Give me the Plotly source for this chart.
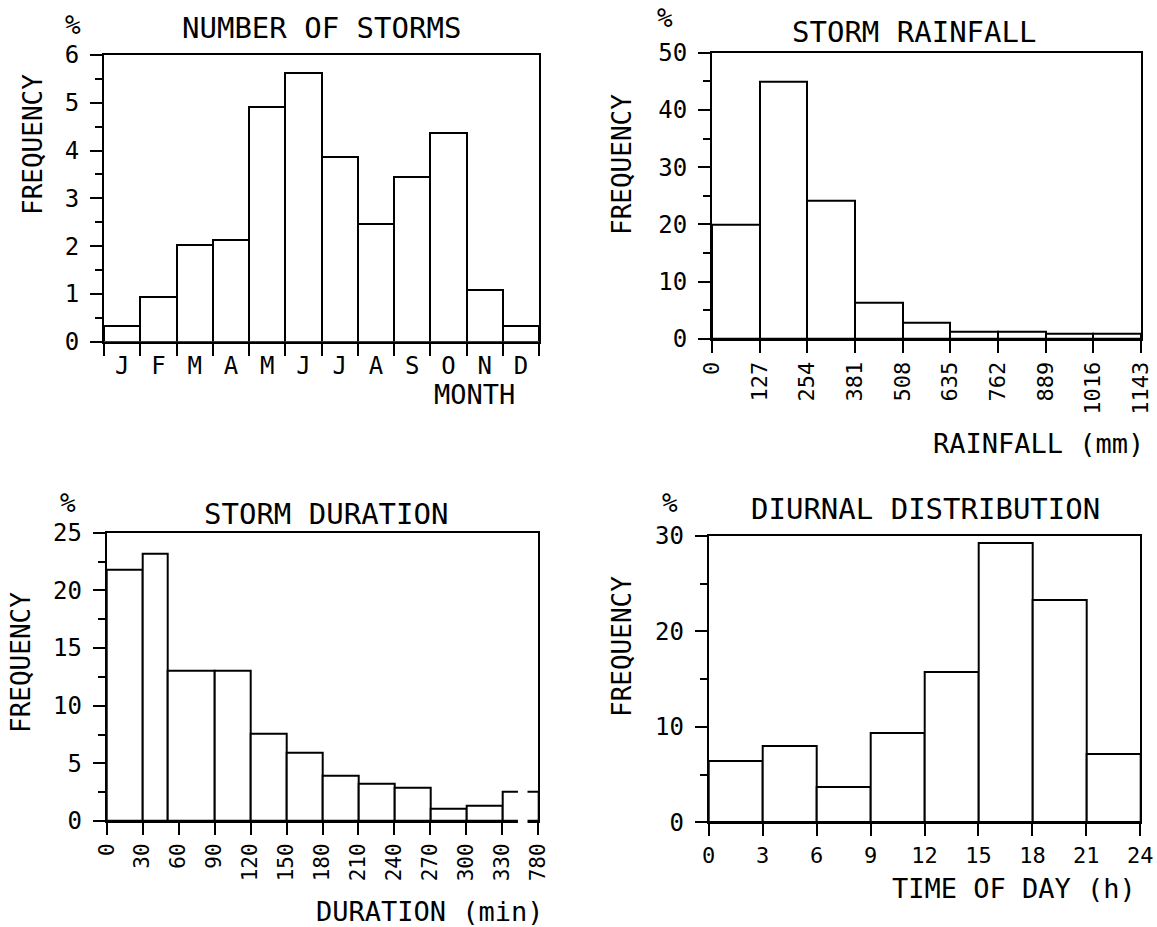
import numpy as np
import plotly.graph_objects as go

W, H = 1157, 927
FONT = "DejaVu Sans Mono"

# ---- data -------------------------------------------------------------
months = ["J", "F", "M", "A", "M", "J", "J", "A", "S", "O", "N", "D"]
storms_pct = [0.32, 0.93, 2.02, 2.13, 4.91, 5.63, 3.87, 2.46, 3.44, 4.36, 1.09, 0.32]

rain_edges = [0, 127, 254, 381, 508, 635, 762, 889, 1016, 1143]
rain_pct = [20.0, 45.0, 24.2, 6.4, 2.8, 1.3, 1.3, 0.9, 0.9]

# last class (330-780 min) is drawn compressed behind an axis break
dur_edges = [0, 30, 51, 90, 120, 150, 180, 210, 240, 270, 300, 330, 360]
dur_ticks = [0, 30, 60, 90, 120, 150, 180, 210, 240, 270, 300, 330, 360]
dur_ticktext = ["0", "30", "60", "90", "120", "150", "180", "210", "240",
                "270", "300", "330", "780"]
dur_pct = [21.8, 23.2, 13.0, 13.0, 7.6, 5.9, 3.9, 3.2, 2.9, 1.1, 1.3, 2.5]

hour_edges = [0, 3, 6, 9, 12, 15, 18, 21, 24]
hour_pct = [6.4, 8.0, 3.7, 9.4, 15.7, 29.3, 23.3, 7.2]


def px(x):
    return x / W


def py(y):
    return 1 - y / H


def bars(edges, vals, xa, ya):
    e = np.asarray(edges, dtype=float)
    return go.Bar(
        x=(e[:-1] + e[1:]) / 2, y=vals, width=np.diff(e),
        marker=dict(color="white", line=dict(color="black", width=2)),
        xaxis=xa, yaxis=ya, showlegend=False, hoverinfo="skip",
    )


fig = go.Figure()
month_edges = list(range(13))
fig.add_trace(bars(month_edges, storms_pct, "x", "y"))
fig.add_trace(bars(rain_edges, rain_pct, "x2", "y2"))
fig.add_trace(bars(dur_edges, dur_pct, "x3", "y3"))
fig.add_trace(bars(hour_edges, hour_pct, "x4", "y4"))

line = dict(showline=True, mirror=True, linecolor="black", linewidth=2,
            showgrid=False, zeroline=False, fixedrange=True, automargin=False)


def yax(domain, top, dtick, anchor):
    return dict(line, domain=domain, range=[0, top], dtick=dtick, tick0=0,
                ticks="outside", ticklen=12, tickwidth=2, tickcolor="black",
                ticklabelstandoff=6, anchor=anchor,
                tickfont=dict(family=FONT, size=24, color="black"),
                minor=dict(dtick=dtick / 2, tick0=0, ticks="outside",
                           ticklen=7, tickwidth=2, tickcolor="black"))


# panel frames (pixels: left, right, top, bottom)
p1 = (104, 539, 55, 341.7)
p2 = (712, 1141, 52.7, 339)
p3 = (106.7, 538.3, 532.7, 821)
p4 = (708.7, 1140.3, 536, 822.3)


def dom(p):
    return [px(p[0]), px(p[1])], [py(p[3]), py(p[2])]


d1x, d1y = dom(p1)
d2x, d2y = dom(p2)
d3x, d3y = dom(p3)
d4x, d4y = dom(p4)

fig.update_layout(
    width=W, height=H, margin=dict(l=0, r=0, t=0, b=0, autoexpand=False),
    paper_bgcolor="white", plot_bgcolor="white", bargap=0,
    font=dict(family=FONT, color="black"),
    xaxis=dict(line, domain=d1x, range=[0, 12], anchor="y",
               tickmode="array",
               tickvals=[i + 0.5 for i in range(12)], ticktext=months,
               ticks="outside", ticklen=1, tickcolor="rgba(0,0,0,0)",
               tickfont=dict(family=FONT, size=24, color="black"),
               minor=dict(tickmode="array", tickvals=month_edges,
                          ticks="outside", ticklen=12, tickwidth=2,
                          tickcolor="black")),
    yaxis=yax(d1y, 6, 1, "x"),
    xaxis2=dict(line, domain=d2x, range=[0, 1143], anchor="y2",
                tickmode="array", tickvals=rain_edges,
                ticktext=[str(v) for v in rain_edges], tickangle=-90,
                ticks="outside", ticklen=12, tickwidth=2, tickcolor="black",
                tickfont=dict(family=FONT, size=22, color="black")),
    yaxis2=yax(d2y, 50, 10, "x2"),
    xaxis3=dict(line, domain=d3x, range=[0, 360], anchor="y3",
                tickmode="array", tickvals=dur_ticks, ticktext=dur_ticktext,
                tickangle=-90, ticks="outside", ticklen=12, tickwidth=2,
                tickcolor="black",
                tickfont=dict(family=FONT, size=21, color="black")),
    yaxis3=yax(d3y, 25, 5, "x3"),
    xaxis4=dict(line, domain=d4x, range=[0, 24], anchor="y4",
                tickmode="array", tickvals=hour_edges,
                ticks="outside", ticklen=12, tickwidth=2, tickcolor="black",
                tickfont=dict(family=FONT, size=22, color="black")),
    yaxis4=yax(d4y, 30, 10, "x4"),
)

# axis break on the duration axis (between 330 and 780 min)
fig.add_shape(type="rect", xref="x3 domain", yref="y3 domain",
              x0=343 / 360, x1=351 / 360, y0=-0.03, y1=0.13,
              fillcolor="white", line=dict(width=0), layer="above")


def label(text, x, y, size, xanchor="center", angle=0):
    fig.add_annotation(text=text, x=px(x), y=py(y), xref="paper", yref="paper",
                       showarrow=False, xanchor=xanchor, yanchor="middle",
                       textangle=angle,
                       font=dict(family=FONT, size=size, color="black"))


panels = [
    ("NUMBER OF STORMS", (321, 28), (73, 25), (33, 145), "MONTH", (517, 394)),
    ("STORM RAINFALL", (914, 32), (665, 18), (622, 165), "RAINFALL (mm)", (1146, 443)),
    ("STORM DURATION", (326, 514), (68, 503), (21, 663), "DURATION (min)", (546, 911)),
    ("DIURNAL DISTRIBUTION", (925, 509), (670, 503), (622, 647), "TIME OF DAY (h)", (1138, 888)),
]
for title, tpos, ppos, fpos, xtitle, xpos in panels:
    label(title, *tpos, 29)
    label("%", *ppos, 26)
    label("FREQUENCY", *fpos, 26, angle=-90)
    label(xtitle, *xpos, 27, xanchor="right")

fig.write_html("out.html")
